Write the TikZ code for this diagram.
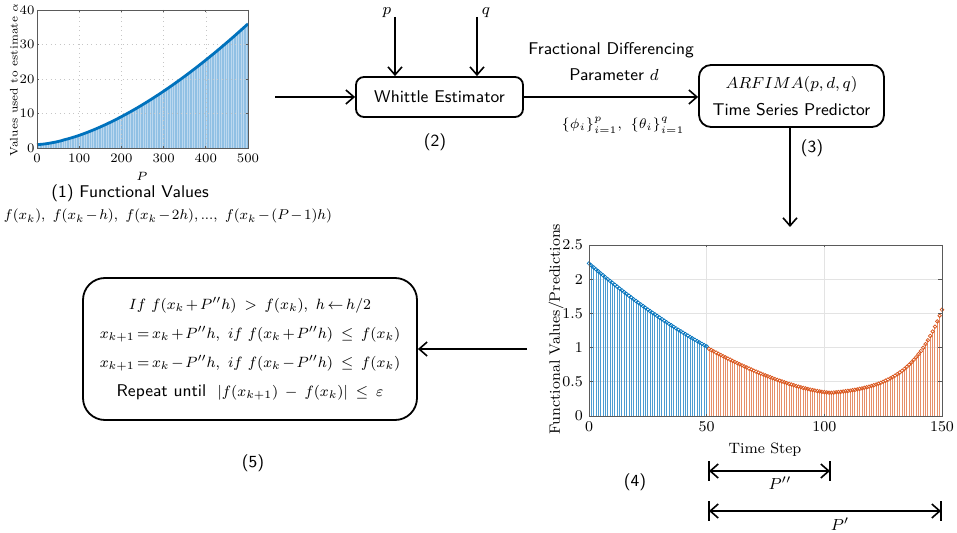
\documentclass[tikz,border=0pt]{standalone}
\usepackage{graphicx}
\usetikzlibrary{arrows.meta}
\definecolor{mblue}{RGB}{0,114,189}
\definecolor{morange}{RGB}{217,83,25}
\definecolor{lblue}{RGB}{160,200,232}
\definecolor{axgray}{RGB}{90,90,90}
\newcommand{\tightmath}{\medmuskip=2mu\thickmuskip=3mu}
\newcommand{\boxline}[1]{\scalebox{0.93}{\tightmath$#1$}}
\tikzset{
  box/.style={draw, line width=0.9pt, rounded corners=4pt, font=\sffamily\fontsize{8.5}{10}\selectfont, align=center, inner sep=0pt},
  conn/.style={line width=0.8pt, -{Straight Barb[length=4pt,width=7pt,line width=0.8pt]}},
  dimarr/.style={line width=0.8pt, {Straight Barb[length=4pt,width=7pt,line width=0.8pt]}-{Straight Barb[length=4pt,width=7pt,line width=0.8pt]}},
  barline/.style={line width=0.8pt},
  lbl/.style={font=\sffamily\fontsize{8.5}{10}\selectfont, inner sep=0pt},
  mlbl/.style={font=\fontsize{8.5}{10}\selectfont\tightmath, inner sep=0pt},
  tickA/.style={font=\fontsize{6.5}{8}\selectfont, inner sep=0pt},
  tickB/.style={font=\fontsize{7.5}{9}\selectfont, inner sep=0pt},
  gridA/.style={gray!45, line width=0.25pt, dotted},
  gridB/.style={gray!22, line width=0.3pt},
  axbox/.style={axgray, line width=0.4pt},
  stemA/.style={lblue!90!mblue, line width=0.45pt},
  stemb/.style={mblue!70, line width=0.5pt},
  stemo/.style={morange!65, line width=0.5pt},
  mkb/.style={mblue, line width=0.35pt},
  mko/.style={morange, line width=0.35pt},
}
\begin{document}
\begin{tikzpicture}[x=0.5pt,y=-0.5pt]
\useasboundingbox (0,0) rectangle (957,533);

% ---------- chart (1) ----------
\begin{scope}[shift={(37,148)}, x=0.211pt, y=1.725pt]
  \fill[lblue!70] (0,0) -- (0,1) -- plot[domain=1:500,samples=80] (\x,{1+35*(\x/500)^1.6}) -- (500,0) -- cycle;
  \foreach \P in {3,7,...,499} {
    \draw[stemA] (\P,0) -- (\P,{1+35*(\P/500)^1.6});
  }
  \foreach \v in {100,200,300,400} \draw[gridA] (\v,0) -- (\v,40);
  \foreach \v in {10,20,30} \draw[gridA] (0,\v) -- (500,\v);
  \draw[mblue, line width=1.4pt] (0,1) -- plot[domain=1:500,samples=80] (\x,{1+35*(\x/500)^1.6});
  \draw[axbox] (0,0) rectangle (500,40);
  \foreach \v in {0,100,...,500} {
    \draw[axbox] (\v,0) -- (\v,0.6);
    \draw[axbox] (\v,40) -- (\v,39.4);
    \node[tickA, anchor=north] at (\v,-1.6) {\v};
  }
  \foreach \v in {0,10,...,40} {
    \draw[axbox] (0,\v) -- (5,\v);
    \draw[axbox] (500,\v) -- (495,\v);
    \node[tickA, anchor=east] at (-5,\v) {\v};
  }
\end{scope}
\node[tickA, font=\fontsize{5.5}{7}\selectfont, rotate=90] (ylabA) at (14,80) {Values used to estimate $\alpha$};
\node[tickA] (xlabA) at (142,176) {$P$};
\node[lbl] (cap1) at (130,193) {(1) Functional Values};
\node[mlbl, font=\fontsize{8}{10}\selectfont] (form1) at (168,216) {\resizebox{164pt}{!}{\tightmath$f(x_k),\ f(x_k-h),\ f(x_k-2h),...,\ f(x_k-(P-1)h)$}};

% ---------- Whittle ----------
\node[box, minimum width=83.5pt, minimum height=20pt] (wh) at (439.5,97) {Whittle Estimator};
\coordinate (c1) at (275,97);
\draw[conn] (c1) -- (wh.west);
\coordinate (pin) at (395,17);
\coordinate (qin) at (477,17);
\draw[conn] (pin) -- (pin |- wh.north);
\draw[conn] (qin) -- (qin |- wh.north);
\node[mlbl] (plab) at (387,13) {$p$};
\node[mlbl] (qlab) at (486,13) {$q$};
\node[lbl] (n2) at (435,142) {(2)};

% ---------- ARFIMA ----------
\node[box, rounded corners=6pt, minimum width=92.5pt, minimum height=31pt, font=\sffamily\fontsize{8.5}{13.5}\selectfont] (ar) at (791.5,96) {$ARFIMA(p,d,q)$\\Time Series Predictor};
\draw[conn] (wh.east) -- (wh.east -| ar.west);
\node[lbl] (fd1) at (611,50) {Fractional Differencing};
\node[lbl] (fd2) at (614,75) {Parameter $d$};
\node[mlbl, font=\fontsize{7.3}{9}\selectfont] (phth) at (623,125) {$\{\phi_i\}_{i=1}^{p},\ \{\theta_i\}_{i=1}^{q}$};
\coordinate (c3) at (790,227);
\draw[conn] (ar.south -| c3) -- (c3);
\node[lbl] (n3) at (812,148) {(3)};

% ---------- chart (4) ----------
\begin{scope}[shift={(589,416)}, x=1.17667pt, y=34.2pt]
  \foreach \v in {50,100} \draw[gridB] (\v,0) -- (\v,2.5);
  \foreach \v in {0.5,1,1.5,2} \draw[gridB] (0,\v) -- (150,\v);
  \foreach \t in {0,...,50} {
    \pgfmathsetmacro\vv{2.23-0.0296*\t+0.0001*\t*\t}
    \draw[stemb] (\t,0) -- (\t,\vv);
  }
  \foreach \t in {51,...,102} {
    \pgfmathsetmacro\vv{0.34+0.66*((103-\t)/53)^1.5}
    \draw[stemo] (\t,0) -- (\t,\vv);
  }
  \foreach \t in {103,...,150} {
    \pgfmathsetmacro\vv{0.3+0.04*exp(0.0733*(\t-103))}
    \draw[stemo] (\t,0) -- (\t,\vv);
  }
  \foreach \t in {0,...,50} {
    \pgfmathsetmacro\vv{2.23-0.0296*\t+0.0001*\t*\t}
    \draw[mkb] (\t,\vv) circle[radius=0.9pt];
  }
  \foreach \t in {51,...,102} {
    \pgfmathsetmacro\vv{0.34+0.66*((103-\t)/53)^1.5}
    \draw[mko] (\t,\vv) circle[radius=0.9pt];
  }
  \foreach \t in {103,...,150} {
    \pgfmathsetmacro\vv{0.3+0.04*exp(0.0733*(\t-103))}
    \draw[mko] (\t,\vv) circle[radius=0.9pt];
  }
  \draw[axbox] (0,0) rectangle (150,2.5);
  \foreach \v in {0,50,100,150} {
    \draw[axbox] (\v,0) -- (\v,0.03);
    \draw[axbox] (\v,2.5) -- (\v,2.47);
    \node[tickB, anchor=north] at (\v,-0.08) {\v};
  }
  \foreach \v in {0,0.5,1,1.5,2,2.5} {
    \draw[axbox] (0,\v) -- (1.5,\v);
    \draw[axbox] (150,\v) -- (148.5,\v);
    \node[tickB, anchor=east] at (-2.5,\v) {\v};
  }
\end{scope}
\node[tickB, rotate=90] (ylabB) at (556,329) {Functional Values/Predictions};
\node[tickB] (xlabB) at (765,450) {Time Step};
\node[lbl] (n4) at (635,482) {(4)};

\coordinate (pa) at (709,471);
\coordinate (pb) at (830,471);
\coordinate (qa) at (709,511);
\coordinate (qb) at (941,511);
\draw[dimarr] (pa) -- (pb);
\draw[dimarr] (qa) -- (qb);
\foreach \c in {pa,pb,qa,qb} \draw[barline] ([yshift=5pt]\c) -- ([yshift=-5pt]\c);
\node[mlbl] (pdd) at (780,483) {$P''$};
\node[mlbl] (pd) at (840,524) {$P'$};

% ---------- box (5) ----------
\node[box, rounded corners=11pt, minimum width=167pt, minimum height=71pt, font=\sffamily\fontsize{8}{14.5}\selectfont] (b5) at (250,349) {%
\boxline{If\ f(x_k+P''h)\ >\ f(x_k),\ h\leftarrow h/2}\\
\boxline{x_{k+1}=x_k+P''h,\ if\ f(x_k+P''h)\ \le\ f(x_k)}\\
\boxline{x_{k+1}=x_k-P''h,\ if\ f(x_k-P''h)\ \le\ f(x_k)}\\
{\fontsize{8.5}{14.5}\selectfont Repeat until}\ \ \boxline{|f(x_{k+1})\ -\ f(x_k)|\ \le\ \varepsilon}};
\coordinate (c5) at (527,349);
\draw[conn] (c5) -- (b5.east);
\node[lbl] (n5) at (253,463) {(5)};
\end{tikzpicture}
\end{document}
